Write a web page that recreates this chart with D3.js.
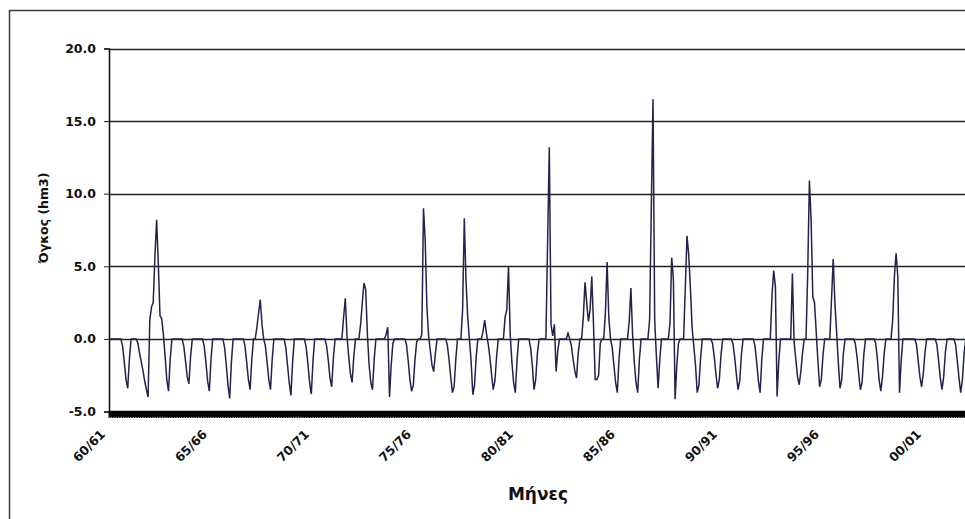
<!DOCTYPE html>
<html><head><meta charset="utf-8">
<script src="https://cdn.jsdelivr.net/npm/d3@7/dist/d3.min.js"></script>
<style>body{margin:0;background:#fff}svg{display:block}</style>
</head><body><svg id="c" width="965" height="519"></svg>
<script>
// Monthly volume (hm3), hydrological years Oct..Sep, one row per year
const vol1960s = [
  0,0,0,0,0,0,0,0,-0.5,-1.6,-2.8,-3.4,
  -1.4,0,0,0,0,-0.3,-1.0,-1.6,-2.2,-2.9,-3.5,-4.0,
  1.3,2.2,2.5,5.6,8.2,5.2,1.6,1.4,0.3,-1.2,-2.8,-3.6,
  -1.4,0,0,0,0,0,0,0,-0.5,-1.5,-2.6,-3.1,
  -1.2,0,0,0,0,0,0,0,-0.5,-1.6,-2.9,-3.6,
  -1.4,0,0,0,0,0,0,0,-0.6,-1.8,-3.2,-4.1,
  -1.6,0,0,0,0,0,0,0,-0.5,-1.6,-2.8,-3.5,
  -1.4,0,0,0.8,1.8,2.7,1.0,0,-0.5,-1.6,-2.8,-3.5,
  -1.4,0,0,0,0,0,0,0,-0.6,-1.8,-3.0,-3.9,
  -1.6,0,0,0,0,0,0,0,-0.6,-1.7,-3.0,-3.8
];
const vol1970s = [
  -1.5,0,0,0,0,0,0,0,-0.5,-1.5,-2.7,-3.3,
  -1.3,0,0,0,0,0,1.5,2.8,0.2,-1.2,-2.4,-3.0,
  -1.2,0,0,0,1.0,2.5,3.85,3.4,0.3,-1.8,-3.0,-3.5,
  -1.4,0,0,0,0,0,0,0.3,0.8,-4.0,-1.8,-0.3,
  0,0,0,0,0,0,0,-0.4,-1.5,-2.8,-3.6,-3.2,
  -1.4,-0.2,0,0,0.3,9.0,6.8,2.2,0.2,-0.8,-1.8,-2.25,
  -1.0,0,0,0,0,0,0,-0.4,-1.4,-2.6,-3.7,-3.3,
  -1.4,0,0,0,2.0,8.3,4.0,1.5,0,-1.5,-3.85,-3.2,
  -1.2,0,0,0,0.5,1.3,0.4,-0.3,-1.2,-2.4,-3.5,-2.9,
  -1.2,0,0,0,0,1.5,2.0,5.0,0.3,-1.6,-3.0,-3.7
];
const vol1980s = [
  -1.5,0,0,0,0,0,0,0,-0.6,-1.8,-3.5,-2.8,
  -1.0,0,0,0,0,0,6.6,13.2,1.0,0.2,1.0,-2.25,
  -0.8,0,0,0,0,0,0.4,0,-0.5,-1.4,-2.2,-2.7,
  -1.0,0,0,1.5,3.9,2.5,1.2,2.0,4.3,1.0,-2.8,-2.8,
  -2.5,-0.3,0,0,1.8,5.3,1.5,0,-0.6,-1.8,-3.0,-3.7,
  -1.4,0,0,0,0,0,1.2,3.5,0.3,-1.6,-3.0,-3.7,
  -1.4,0,0,0,0,0,1.3,8.9,16.5,1.3,-1.2,-3.4,
  -1.4,0,0,0,0,0,1.1,5.6,4.1,-4.15,-1.8,-0.3,
  0,0,0,3.5,7.1,5.8,3.5,0.8,-0.5,-1.8,-3.7,-3.2,
  -1.3,0,0,0,0,0,0,-0.3,-1.2,-2.4,-3.4,-2.8
];
const vol1990s = [
  -1.1,0,0,0,0,0,0,-0.3,-1.2,-2.4,-3.5,-2.9,
  -1.1,0,0,0,0,0,0,0,-0.5,-1.6,-2.9,-3.7,
  -1.4,0,0,0,0,0,3.0,4.7,3.6,-3.96,-1.5,0,
  0,0,0,0,0,0,4.5,-0.2,-1.4,-2.6,-3.16,-2.2,
  -0.9,0,0,4.5,10.9,8.2,2.9,2.5,0.5,-1.5,-3.3,-2.8,
  -1.1,0,0,0,0,2.7,5.5,2.5,0.5,-1.6,-3.4,-2.8,
  -1.0,0,0,0,0,0,0,-0.3,-1.2,-2.4,-3.5,-3.0,
  -1.1,0,0,0,0,0,0,-0.3,-1.4,-2.8,-3.6,-2.6,
  -1.0,0,0,0,0,1.3,4.3,5.9,4.3,-3.7,-1.5,0,
  0,0,0,0,0,0,0,-0.4,-1.5,-2.6,-3.3,-2.4
];
const vol2000s = [
  -0.9,0,0,0,0,0,0,-0.4,-1.5,-2.7,-3.5,-2.6,
  -0.9,0,0,0,0,0,-0.4,-1.5,-2.7,-3.7,-2.8,-1.0,
  0,0,0,0,0,0,0,-0.4,-1.5,-2.7,-3.5,-2.6
];
const seasonLabels = ["60/61","65/66","70/71","75/76","80/81","85/86","90/91","95/96","00/01"];
const labelEvery = 60; // one label every 5 years of months
const yTickValues = [-5, 0, 5, 10, 15, 20];
const gridValues = [0, 5, 10, 15, 20];

const values = [].concat(vol1960s, vol1970s, vol1980s, vol1990s, vol2000s);
const monthIdx = d3.range(values.length);

const svg = d3.select("#c");
const plotLeft = 109, plotTop = 48.5, plotBottom = 411.5;
const x = d3.scaleLinear().domain([0, values.length]).range([plotLeft, plotLeft + 1.7 * values.length]);
const y = d3.scaleLinear().domain([-5, 20]).range([plotBottom, plotTop]);
const plotRight = x(values.length);

// outer frame
svg.append("path").attr("d", "M9.5,530V10.5H980")
  .attr("fill", "none").attr("stroke", "#3a3a3a").attr("stroke-width", 1.5);

// gridlines
svg.append("g").selectAll("line").data(gridValues).join("line")
  .attr("x1", plotLeft).attr("x2", plotRight)
  .attr("y1", d => Math.round(y(d)) + 0.5).attr("y2", d => Math.round(y(d)) + 0.5)
  .attr("stroke", "#222").attr("stroke-width", 1.4);

// y axis
const yAxis = svg.append("g").attr("transform", `translate(${plotLeft},0)`)
  .call(d3.axisLeft(y).tickValues(yTickValues).tickSize(5).tickPadding(8).tickFormat(d => d.toFixed(1)));
yAxis.select(".domain").attr("stroke", "#111").attr("stroke-width", 1.6);
yAxis.selectAll(".tick line").attr("stroke", "#222");
yAxis.selectAll("text").attr("font-family", "DejaVu Sans, sans-serif").attr("font-weight", "bold")
  .attr("font-size", 12.5).attr("fill", "#111");

// x axis: band of monthly tick marks under the -5 line
const tickPath = monthIdx.map(i => `M${x(i).toFixed(2)},${plotBottom}v6.5`).join("");
svg.append("rect").attr("x", plotLeft).attr("y", plotBottom).attr("width", plotRight - plotLeft).attr("height", 5.5)
  .attr("fill", "#111");
svg.append("path").attr("d", tickPath).attr("stroke", "#000").attr("stroke-width", 1.1).attr("fill", "none");
svg.append("line").attr("x1", plotLeft).attr("x2", plotRight)
  .attr("y1", plotBottom).attr("y2", plotBottom)
  .attr("stroke", "#000").attr("stroke-width", 1.6);

// x labels
svg.append("g").selectAll("text").data(seasonLabels).join("text")
  .attr("transform", (d, i) => `translate(${x(i * labelEvery) - 3},435) rotate(-45)`)
  .attr("text-anchor", "end")
  .attr("font-family", "DejaVu Sans, sans-serif").attr("font-weight", "bold")
  .attr("font-size", 12.5).attr("fill", "#111")
  .text(d => d);

// data line
svg.append("path").datum(values)
  .attr("fill", "none").attr("stroke", "#22224c").attr("stroke-width", 1.5)
  .attr("stroke-linejoin", "miter")
  .attr("d", d3.line().x((d, i) => x(i)).y(d => y(d)));

// titles
svg.append("text").attr("transform", "translate(48,218) rotate(-90)")
  .attr("text-anchor", "middle").attr("font-family", "DejaVu Sans, sans-serif")
  .attr("font-weight", "bold").attr("font-size", 12.5).attr("fill", "#111")
  .text("Όγκος (hm3)");
svg.append("text").attr("x", 538).attr("y", 500)
  .attr("text-anchor", "middle").attr("font-family", "DejaVu Sans, sans-serif")
  .attr("font-weight", "bold").attr("font-size", 17).attr("fill", "#111")
  .text("Μήνες");
</script></body></html>
